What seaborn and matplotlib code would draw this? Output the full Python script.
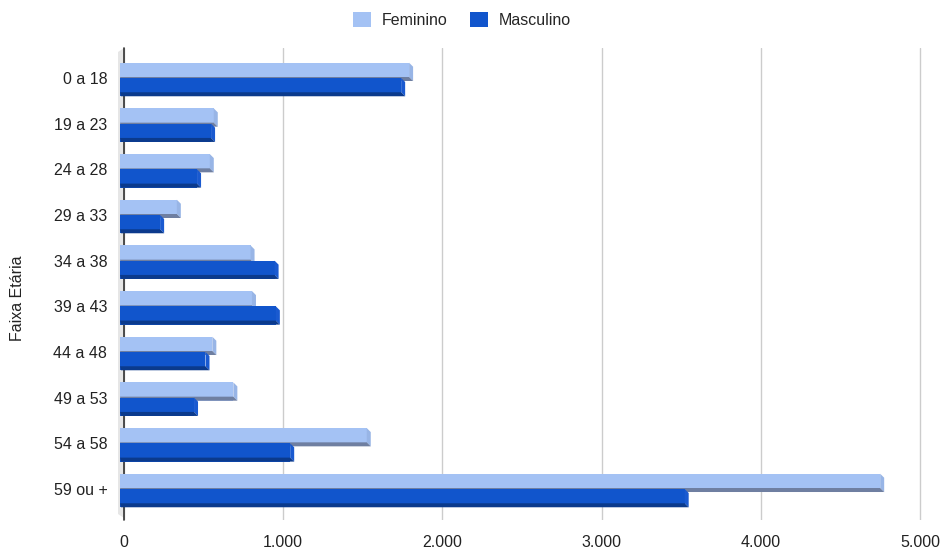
import numpy as np
import pandas as pd
import matplotlib
matplotlib.use("Agg")
import matplotlib.pyplot as plt
from matplotlib.patches import Polygon
from matplotlib.transforms import IdentityTransform, ScaledTranslation, offset_copy
from matplotlib.ticker import FuncFormatter
import seaborn as sns

# data
faixas = ["0 a 18", "19 a 23", "24 a 28", "29 a 33", "34 a 38",
          "39 a 43", "44 a 48", "49 a 53", "54 a 58", "59 ou +"]
feminino = [1816, 589, 564, 357, 820, 829, 580, 712, 1550, 4775]
masculino = [1766, 572, 484, 252, 971, 979, 537, 465, 1069, 3547]
sexos = ["Feminino", "Masculino"]
x_ticks = [0, 1000, 2000, 3000, 4000, 5000]

front = {"Feminino": "#a4c2f4", "Masculino": "#1155cc"}
side = {"Feminino": "#98b5e6", "Masculino": "#1a5ad0"}
bottom = {"Feminino": "#6f7fa1", "Masculino": "#0b3a8c"}

df = pd.DataFrame({
    "Faixa": faixas * 2,
    "Sexo": ["Feminino"] * len(faixas) + ["Masculino"] * len(faixas),
    "Valor": feminino + masculino,
})

sns.set_style("white")
plt.rcParams["font.family"] = ["Liberation Sans", "DejaVu Sans"]

W, H, DPI = 944, 549, 100
fig = plt.figure(figsize=(W / DPI, H / DPI), dpi=DPI)
ax = fig.add_axes([124 / W, 29 / H, 800 / W, 472 / H])

sns.barplot(data=df, y="Faixa", x="Valor", hue="Sexo", order=faixas,
            hue_order=sexos, palette=front, width=0.8, orient="h",
            saturation=1, linewidth=0, ax=ax, legend=False, zorder=3)
bars = [p for p in ax.patches]

ax.set_xlim(0, 5000 * 800 / 796)
ax.set_ylim(9.613, -0.7226)
ax.set_xticks(x_ticks)
ax.xaxis.set_major_formatter(FuncFormatter(lambda v, p: f"{int(v):,}".replace(",", ".")))
ax.tick_params(axis="both", length=0, labelsize=11.5, colors="#222222")
ax.tick_params(axis="y", pad=12)
ax.tick_params(axis="x", pad=11)
ax.set_xlabel("")
ax.set_ylabel("")
for s in ax.spines.values():
    s.set_visible(False)
ax.grid(axis="x", color="#cccccc", lw=1, zorder=0)
ax.grid(axis="y", visible=False)
ax.axvline(0, color="#333333", lw=1.2, zorder=1, clip_on=False)

for lab in ax.get_yticklabels():
    lab.set_transform(lab.get_transform() + ScaledTranslation(0, 3 / DPI, fig.dpi_scale_trans))

fig.canvas.draw()

# 3D look: left wall, shifted front faces, side and bottom faces
d = 4
ax_bb = ax.get_window_extent()
x0w = ax.transData.transform((0, 0))[0]
wall = Polygon([(x0w - 6, ax_bb.y1 - 4), (x0w, ax_bb.y1), (x0w, ax_bb.y0 + 2),
                (x0w - 6, ax_bb.y0 + 6)], closed=True, transform=IdentityTransform(),
               facecolor="#e6e6e6", edgecolor="none", zorder=0.5)
ax.add_artist(wall)
wall.set_clip_on(False)

n = len(faixas)
for i, bar in enumerate(bars):
    sexo = sexos[min(i // n, 1)]
    bb = bar.get_window_extent()
    shift_y = 3 if sexo == "Masculino" else 0
    z = 3 if sexo == "Feminino" else 5
    bar.set_transform(offset_copy(ax.transData, fig=fig, x=-d, y=shift_y, units="dots"))
    bar.set_zorder(z)
    bar.set_clip_on(False)
    X0, X1 = bb.x0 - d, bb.x1 - d
    top, bot = bb.y1 + shift_y, bb.y0 + shift_y
    bottom_face = Polygon([(X0, bot + d), (X1, bot + d), (X1 + d, bot), (X0 + 1, bot)],
                          closed=True, transform=IdentityTransform(),
                          facecolor=bottom[sexo], edgecolor="none", zorder=z + 0.2)
    side_face = Polygon([(X1, top), (X1 + d, top - d), (X1 + d, bot), (X1, bot + d)],
                        closed=True, transform=IdentityTransform(),
                        facecolor=side[sexo], edgecolor="none", zorder=z + 0.1)
    ax.add_artist(bottom_face)
    ax.add_artist(side_face)
    bottom_face.set_clip_on(False)
    side_face.set_clip_on(False)

fig.text(18 / W, 1 - 298 / H, "Faixa Etária", rotation=90, ha="center", va="center",
         fontsize=11.5, color="#222222")

handles = [plt.Rectangle((0, 0), 1, 1, facecolor=front[s], edgecolor="none") for s in sexos]
fig.legend(handles, sexos, loc="center", bbox_to_anchor=(462 / W, 1 - 20 / H), ncol=2,
           frameon=False, fontsize=11.5, handlelength=1.1, handleheight=1.1,
           handletextpad=0.7, columnspacing=1.4)

fig.savefig("out.png", dpi=DPI)
